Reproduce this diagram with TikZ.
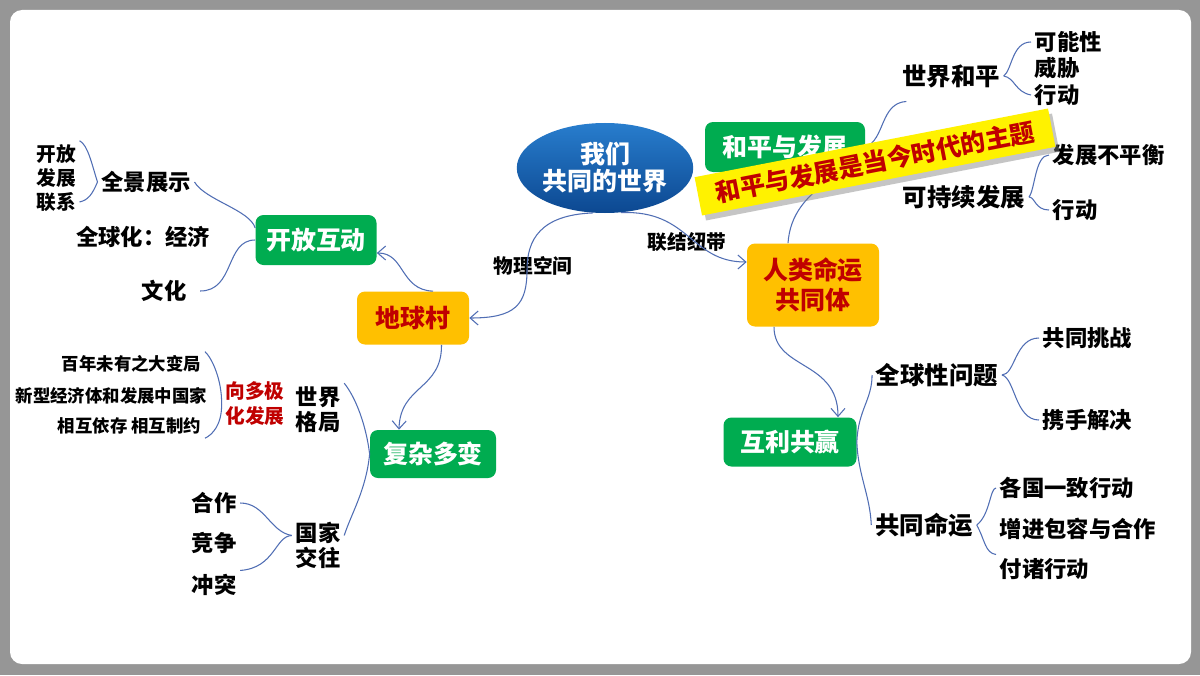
\documentclass[tikz,border=0pt]{standalone}
\usepackage{fontspec}
\setmainfont{Noto Sans CJK SC}
\usetikzlibrary{arrows.meta,shapes.geometric,shadows}
\definecolor{mapgreen}{RGB}{0,172,80}
\definecolor{maporange}{RGB}{255,192,0}
\definecolor{mapred}{RGB}{192,0,0}
\definecolor{mapline}{RGB}{80,110,180}
\definecolor{framegray}{RGB}{150,150,150}
\definecolor{rootlight}{RGB}{40,125,205}
\definecolor{rootdark}{RGB}{12,72,145}
\newcommand{\fsz}[2]{\fontsize{#1}{#2}\selectfont\bfseries}
\tikzset{
  conn/.style={draw=mapline,line width=0.6pt},
  arr/.style={conn,-{Straight Barb[length=1.6mm,width=2.8mm]}},
  greenbox/.style={fill=mapgreen,text=white,rounded corners=1.6mm,font=\fsz{14.2}{16}},
  orangebox/.style={fill=maporange,text=mapred,rounded corners=1.6mm,font=\fsz{14.2}{17}},
  lblbig/.style={inner sep=2pt,font=\fsz{13.9}{15}},
  lblmid/.style={inner sep=2pt,align=center,font=\fsz{12.7}{14.2}},
  lblsm/.style={inner sep=2pt,align=center,font=\fsz{11.2}{14.2}},
  lbltiny/.style={inner sep=2pt,font=\fsz{9.9}{11}},
  banner/.style={rotate=11,fill=yellow,text=mapred,minimum width=72mm,minimum height=7.8mm,
    drop shadow={opacity=0.45,shadow xshift=0.8mm,shadow yshift=-1mm},font=\fsz{14.2}{16}}
}
\begin{document}
\begin{tikzpicture}[x=0.2mm,y=-0.2mm]
\useasboundingbox (0,0) rectangle (1200,675);
\fill[framegray] (0,0) rectangle (1200,675);
\fill[white,rounded corners=2.4mm] (10,10) rectangle (1191,664);

% centre
\node[ellipse,minimum width=33mm,minimum height=18mm,inner sep=0pt,top color=rootlight,
      bottom color=rootdark,text=white,align=center,font=\fsz{14.2}{15.4}] (root) at (605,168) {我们\\共同的世界};

% left half
\node[orangebox,minimum width=22.4mm,minimum height=10.6mm] (dqc) at (413,318) {地球村};
\node[greenbox,minimum width=24.2mm,minimum height=10mm] (kfhd) at (316,240) {开放互动};
\node[greenbox,minimum width=25.2mm,minimum height=9.6mm] (fzdb) at (433,454) {复杂多变};
\node[lblsm] (wlkj) at (533,266) {物理空间};
\node[lblmid] (qjzs) at (146,182) {全景展示};
\node[lblsm] (kf) at (56,154) {开放};
\node[lblsm] (fz) at (56,178) {发展};
\node[lblsm] (lx) at (56,202) {联系};
\node[lblmid] (qqh) at (143,237) {全球化：经济};
\node[lblmid] (wh) at (164,291) {文化};
\node[lbltiny,anchor=east] (bn) at (205,364) {百年未有之大变局};
\node[lbltiny,anchor=east] (xx) at (211,396) {新型经济体和发展中国家};
\node[lbltiny,anchor=east] (xh) at (205,426) {相互依存 相互制约};
\node[lblsm,text=mapred] (dj) at (255,404) {向多极\\化发展};
\node[lblmid] (sjgj) at (318,410) {世界\\格局};
\node[lblmid] (gjjw) at (318,545) {国家\\交往};
\node[lblmid] (hz) at (214,503) {合作};
\node[lblmid] (jz) at (214,543) {竞争};
\node[lblmid] (ct) at (214,585) {冲突};

% right half
\node[greenbox,minimum width=32mm,minimum height=10mm] (hpfz) at (785,147) {和平与发展};
\node[orangebox,minimum width=26.4mm,minimum height=16.6mm,align=center] (rmg) at (813,285) {人类命运\\共同体};
\node[greenbox,minimum width=26.6mm,minimum height=9.8mm] (hlgy) at (790,442) {互利共赢};
\node[lblsm] (ljnd) at (687,242) {联结纽带};
\node[lblbig] (sjhp) at (951,76) {世界和平};
\node[lblmid,anchor=west] (knx) at (1031,42) {可能性};
\node[lblmid,anchor=west] (wx) at (1031,68) {威胁};
\node[lblmid,anchor=west] (xd1) at (1031,95) {行动};
\node[lblbig] (kcx) at (964,197) {可持续发展};
\node[lblmid,anchor=west] (bph) at (1049,155) {发展不平衡};
\node[lblmid,anchor=west] (xd2) at (1049,210) {行动};
\node[lblbig] (qqx) at (937,375) {全球性问题};
\node[lblbig] (gtmy) at (924,525) {共同命运};
\node[lblmid,anchor=west] (gttz) at (1039,338) {共同挑战};
\node[lblmid,anchor=west] (xsjj) at (1039,420) {携手解决};
\node[lblmid,anchor=west] (ggyz) at (996,488) {各国一致行动};
\node[lblmid,anchor=west] (zjbr) at (996,529) {增进包容与合作};
\node[lblmid,anchor=west] (fzxd) at (996,569) {付诸行动};

% arrows out of the centre
\draw[arr] (root.255) .. controls (540,215) and (527,240) .. (527,270)
                      .. controls (527,305) and (515,318) .. (dqc.east);
\draw[arr] (root.290) .. controls (690,210) and (690,262) .. ([yshift=4.6mm]rmg.west);
\draw[arr] ([xshift=4mm]dqc.north) .. controls (400,290) and (405,253) .. ([yshift=-2.6mm]kfhd.east);
\draw[arr] ([xshift=5.7mm]dqc.south) .. controls (442,390) and (400,385) .. ([xshift=-6.8mm]fzdb.north);
\draw[arr] ([xshift=-7.8mm]rmg.south) .. controls (774,370) and (838,360) .. ([xshift=9.6mm]hlgy.north);

% branches, left
\draw[conn] ([yshift=2.4mm]kfhd.west) .. controls (250,210) and (205,200) .. (qjzs.east);
\draw[conn] (kfhd.west) .. controls (225,240) and (235,291) .. ([xshift=2mm]wh.east);
\draw[conn] (qjzs.west) .. controls (92,165) and (88,145) .. (kf.north east);
\draw[conn] (qjzs.west) .. controls (92,195) and (88,200) .. (lx.east);
\draw[conn] (dj.west) .. controls (222,380) and (212,358) .. (bn.north east);
\draw[conn] (dj.west) .. controls (222,425) and (212,435) .. (xh.south east);
\draw[conn] (fzdb.west) .. controls (366,425) and (356,398) .. (sjgj.north east);
\draw[conn] (fzdb.west) .. controls (366,490) and (352,512) .. (gjjw.20);
\draw[conn] (gjjw.160) .. controls (270,532) and (265,503) .. (hz.east);
\draw[conn] (gjjw.160) .. controls (275,536) and (275,568) .. (ct.north east);

% branches, right
\draw[conn] (hlgy.east) .. controls (858,410) and (872,400) .. (qqx.west);
\draw[conn] (hlgy.east) .. controls (858,475) and (870,495) .. (gtmy.west);
\draw[conn] (qqx.east) .. controls (1015,375) and (1015,338) .. (gttz.west);
\draw[conn] (qqx.east) .. controls (1015,378) and (1015,420) .. (xsjj.west);
\draw[conn] (gtmy.east) .. controls (990,515) and (990,488) .. (ggyz.west);
\draw[conn] (gtmy.east) .. controls (985,540) and (985,553) .. (fzxd.north west);
\draw[conn] (sjhp.east) .. controls (1012,70) and (1012,42) .. (knx.west);
\draw[conn] (sjhp.east) .. controls (1015,78) and (1015,92) .. (xd1.west);
\draw[conn] (kcx.east) .. controls (1035,190) and (1035,155) .. (bph.west);
\draw[conn] (kcx.east) .. controls (1035,197) and (1035,210) .. (xd2.west);
\draw[conn] (hpfz.east) .. controls (885,140) and (880,103) .. ([shift={(8,10)}]sjhp.south west);
\draw[conn] ([xshift=-5mm]rmg.north) .. controls (790,215) and (805,195) .. ([xshift=-5mm]hpfz.south east);

% theme banner on top
\node[banner] (zt) at (875,162) {和平与发展是当今时代的主题};
\end{tikzpicture}
\end{document}
